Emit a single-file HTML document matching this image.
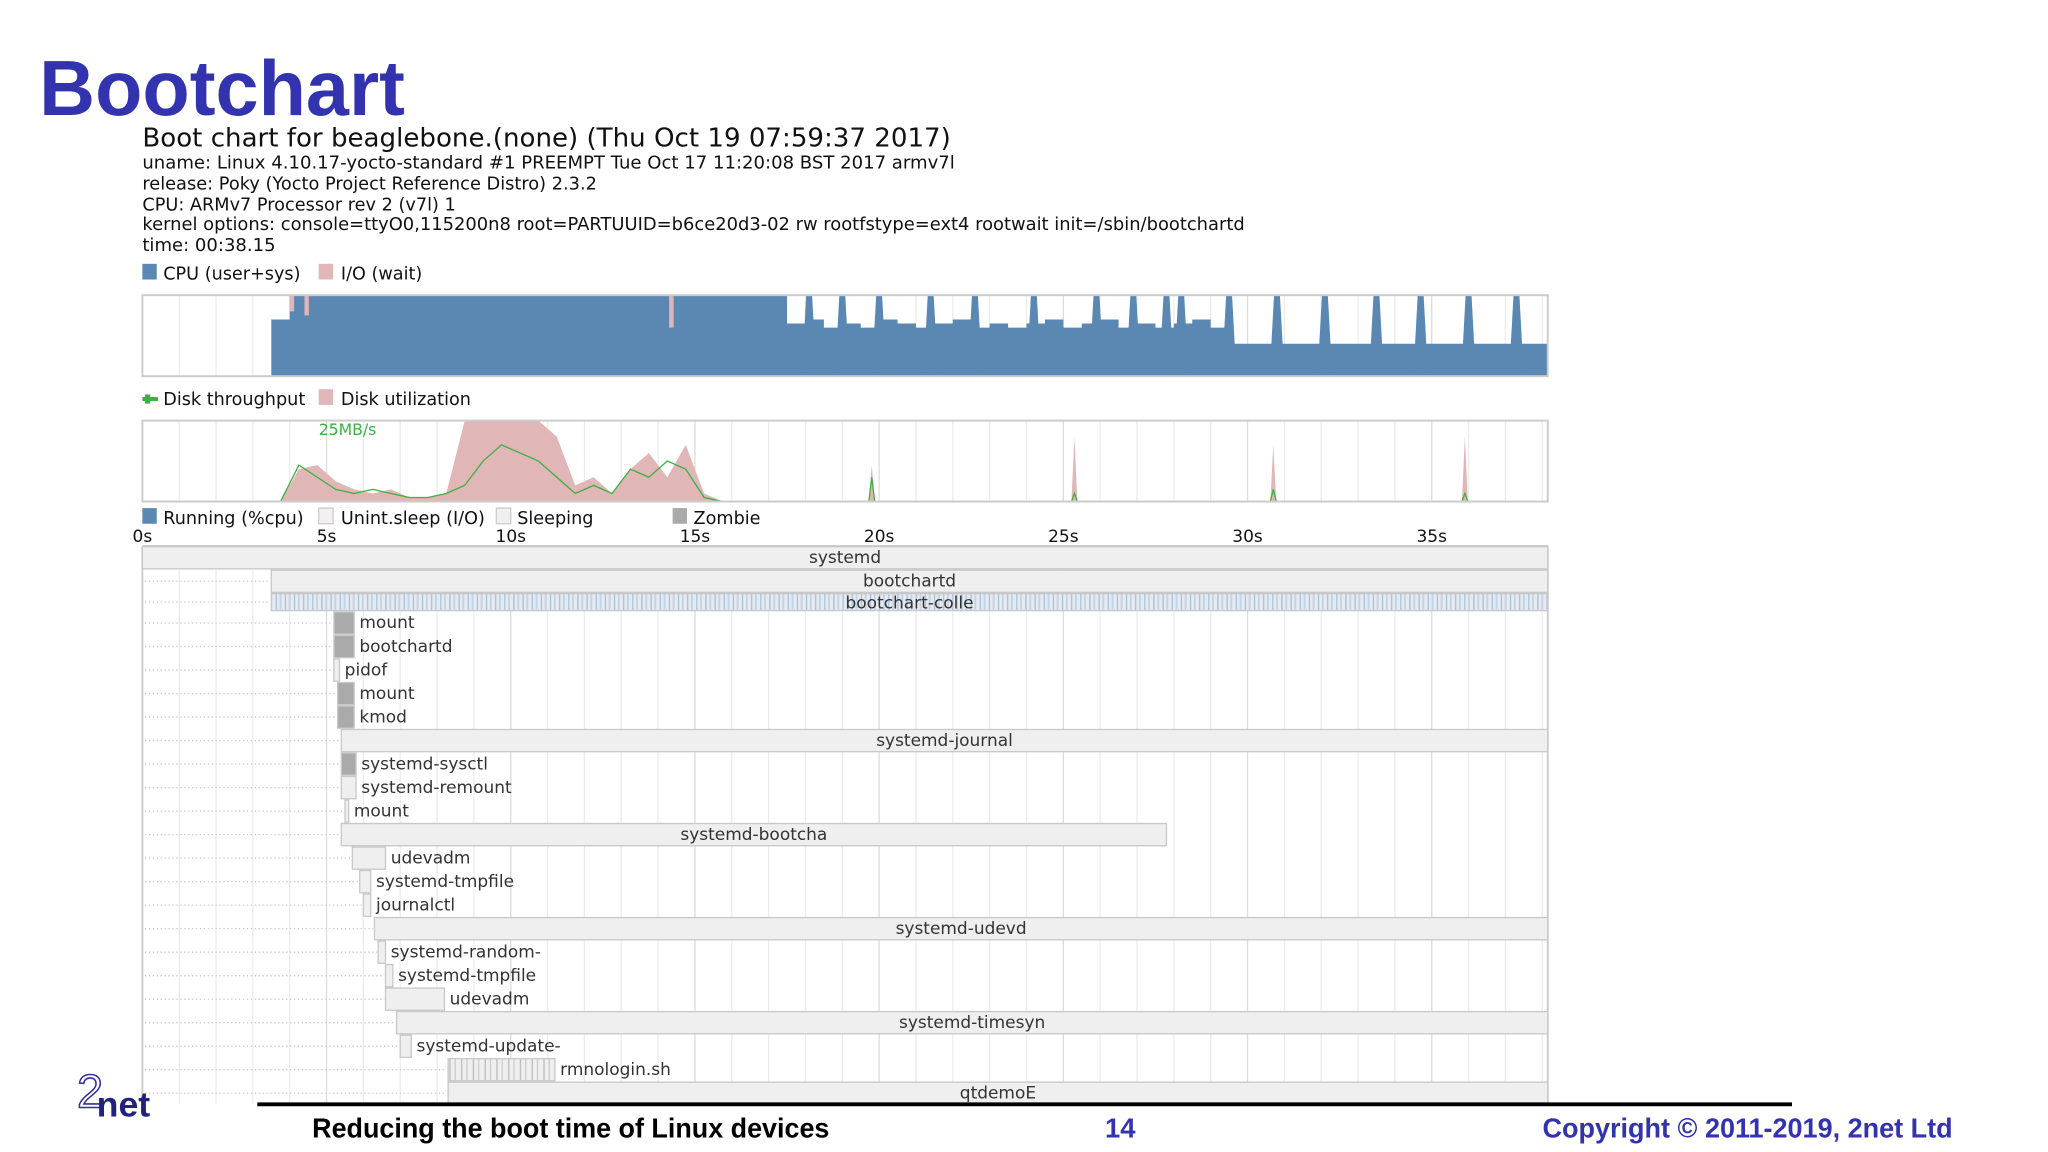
<!DOCTYPE html>
<html><head><meta charset="utf-8">
<style>
html,body{margin:0;padding:0;background:#fff;}
svg{display:block;}
.dv{font-family:"DejaVu Sans","Liberation Sans",sans-serif;}
.ls{font-family:"Liberation Sans",sans-serif;}
</style></head>
<body>
<svg id="root" width="2048" height="1152" viewBox="0 0 1568 882" xmlns="http://www.w3.org/2000/svg">
<defs>
<pattern id="stripes" width="7" height="10" patternUnits="userSpaceOnUse">
<rect width="7" height="10" fill="#e6ebf1"/>
<rect x="1" width="1" height="10" fill="#a9bfd6"/>
<rect x="4" width="1.5" height="10" fill="#c6d3e2"/>
</pattern>
<pattern id="stripes2" width="9" height="10" patternUnits="userSpaceOnUse">
<rect width="9" height="10" fill="#efefef"/>
<rect x="2" width="1" height="10" fill="#bbb"/>
<rect x="6" width="1" height="10" fill="#ccc"/>
</pattern>
<clipPath id="procClip"><rect x="100" y="417" width="1100" height="428"/></clipPath>
</defs>
<text x="30" y="88" class="ls" font-weight="bold" font-size="60" fill="#3333b0" textLength="280" lengthAdjust="spacingAndGlyphs">Bootchart</text>
<g class="dv" fill="#111">
<text x="109" y="112" font-size="20" textLength="619" lengthAdjust="spacingAndGlyphs">Boot chart for beaglebone.(none) (Thu Oct 19 07:59:37 2017)</text>
<text x="109" y="129" font-size="13.5" textLength="622" lengthAdjust="spacingAndGlyphs">uname: Linux 4.10.17-yocto-standard #1 PREEMPT Tue Oct 17 11:20:08 BST 2017 armv7l</text>
<text x="109" y="145" font-size="13.5" textLength="348" lengthAdjust="spacingAndGlyphs">release: Poky (Yocto Project Reference Distro) 2.3.2</text>
<text x="109" y="161" font-size="13.5" textLength="240" lengthAdjust="spacingAndGlyphs">CPU: ARMv7 Processor rev 2 (v7l) 1</text>
<text x="109" y="176" font-size="13.5" textLength="844" lengthAdjust="spacingAndGlyphs">kernel options: console=ttyO0,115200n8 root=PARTUUID=b6ce20d3-02 rw rootfstype=ext4 rootwait init=/sbin/bootchartd</text>
<text x="109" y="192" font-size="13.5" textLength="102" lengthAdjust="spacingAndGlyphs">time: 00:38.15</text>
</g>
<g class="dv" font-size="13.5" fill="#111">
<rect x="109" y="202" width="11" height="12" fill="#5b87b3"/><text x="125" y="214">CPU (user+sys)</text>
<rect x="244" y="202" width="11" height="12" fill="#e0b6b6"/><text x="261" y="214">I/O (wait)</text>
</g>
<g class="dv" font-size="13.5" fill="#111">
<rect x="109" y="304" width="12" height="3" fill="#3cb043"/><rect x="111" y="302" width="4" height="7" fill="#3cb043"/><text x="125" y="310">Disk throughput</text>
<rect x="244" y="298" width="11" height="12" fill="#e0b6b6"/><text x="261" y="310">Disk utilization</text>
</g>
<g class="dv" font-size="13.5" fill="#111">
<rect x="109" y="389" width="11" height="12" fill="#5b87b3"/><text x="125" y="401">Running (%cpu)</text>
<rect x="244" y="389" width="11" height="12" fill="#f4f0f0" stroke="#ccc"/><text x="261" y="401">Unint.sleep (I/O)</text>
<rect x="380" y="389" width="11" height="12" fill="#f0f0f0" stroke="#ccc"/><text x="396" y="401">Sleeping</text>
<rect x="515" y="389" width="11" height="12" fill="#aaa"/><text x="531" y="401">Zombie</text>
</g>
<g id="grid"></g>
<g id="cpuChart"></g>
<g id="diskChart"></g>
<g id="ticks" class="dv" font-size="13" fill="#111"></g>
<g id="procs" clip-path="url(#procClip)" class="dv" font-size="13" fill="#333"></g>
<line x1="197" y1="845.5" x2="1372" y2="845.5" stroke="#000" stroke-width="3"/>
<g>
<text x="59" y="848" class="ls" font-size="36" fill="#fff" stroke="#333399" stroke-width="1.2">2</text>
<text x="74" y="855" class="ls" font-weight="bold" font-size="27" fill="#22227a" textLength="41" lengthAdjust="spacingAndGlyphs">net</text>
</g>
<text x="239" y="871" class="ls" font-weight="bold" font-size="21" fill="#000" textLength="396" lengthAdjust="spacingAndGlyphs">Reducing the boot time of Linux devices</text>
<text x="846" y="871" class="ls" font-weight="bold" font-size="21" fill="#3333b0">14</text>
<text x="1181" y="871" class="ls" font-weight="bold" font-size="21" fill="#3333b0" textLength="314" lengthAdjust="spacingAndGlyphs">Copyright © 2011-2019, 2net Ltd</text>
</svg>
<script>
// ---- data ----
const tickLabels = ["0s","5s","10s","15s","20s","25s","30s","35s"];
const tickTimes = [0,5,10,15,20,25,30,35];
const totalTime = 38.15;
const sampleStep = 0.5;
const cpuLevel = [0,0,0,0,0,0,0,70,
 100,100,100,100,100,100,100,100,100,100,100,100,100,100,100,100,100,100,100,100,100,100,100,100,100,100,100,
 65,70,60,65,60,70,65,60,65,70,60,65,60,65,70,60,65,70,60,65,60,65,70,60,
 40,40,40,40,40,40,40,40,40,40,40,40,40,40,40,40,40,40];
const cpuSpikes = [18.1,19.0,20.0,21.4,22.6,24.2,25.9,26.9,27.8,28.2,29.5,30.8,32.1,33.5,34.7,36.0,37.3];
const ioWaitTimes = [4.0,4.4,14.3];
const ioWaitLevel = [20,25,40];
const diskUtil = [0,0,0,0,0,0,0,0,
 40,45,25,15,10,15,5,5,10,100,100,100,100,100,80,20,30,10,40,60,30,70,10,0];
const diskTput = [0,0,0,0,0,0,0,0,
 45,30,15,10,15,10,5,5,10,20,50,70,60,50,30,10,20,10,40,30,50,40,5,0];
const diskSpikeTimes = [19.8,25.3,30.7,35.9];
const diskSpikeUtil = [45,80,70,80];
const diskSpikeTput = [30,10,15,10];
const procNames = ["systemd","bootchartd","bootchart-colle","mount","bootchartd","pidof","mount","kmod","systemd-journal","systemd-sysctl","systemd-remount","mount","systemd-bootcha","udevadm","systemd-tmpfile","journalctl","systemd-udevd","systemd-random-","systemd-tmpfile","udevadm","systemd-timesyn","systemd-update-","rmnologin.sh","qtdemoE"];
const procStart = [0,3.5,3.5,5.2,5.2,5.2,5.3,5.3,5.4,5.4,5.4,5.5,5.4,5.7,5.9,6.0,6.3,6.4,6.6,6.6,6.9,7.0,8.3,8.3];
const procEnd = [38.15,38.15,38.15,5.75,5.75,5.35,5.75,5.75,38.15,5.8,5.8,5.6,27.8,6.6,6.2,6.2,38.15,6.6,6.8,8.2,38.15,7.3,11.2,38.15];
const procBusy = [0,0,0,1,1,0,1,1,0,1,0,0,0,0,0,0,0,0,0,0,0,0,2,0];

// ---- axes ----
const X0 = 109, X1 = 1185;
const xs = t => X0 + t * (X1 - X0) / totalTime;
const NS = "http://www.w3.org/2000/svg";
function mk(tag, attrs, parent){const e=document.createElementNS(NS,tag);for(const k in attrs)e.setAttribute(k,attrs[k]);parent.appendChild(e);return e;}
const cpuTop=226,cpuBot=288,dTop=322,dBot=384,pTop=418,pBot=845,rowH=18;
const cy = v => cpuBot - v/100*(cpuBot-cpuTop);
const dy = v => dBot - v/100*(dBot-dTop);
const rowY = i => i<3 ? pTop+i*rowH : 468+(i-3)*rowH;
const rowHt = i => i===2 ? 14 : rowH;

// grid
const grid=document.getElementById('grid');
for(let s=1;s<totalTime;s++){
  [[cpuTop,cpuBot],[dTop,dBot],[pTop,pBot]].forEach(([a,b])=>{
    const l=mk('line',{x1:xs(s),x2:xs(s),y1:a,y2:b,stroke:s%5===0?'#dcdcdc':'#ececec','stroke-width':1},grid);
    
    
  });
}

// cpu chart
const cpuG=document.getElementById('cpuChart');
let d='M'+xs(0)+','+cpuBot;
cpuLevel.forEach((v,i)=>{const t=i*sampleStep;d+=' L'+xs(t)+','+cy(v)+' L'+xs(Math.min(t+sampleStep,totalTime))+','+cy(v);});
d+=' L'+xs(totalTime)+','+cpuBot+' Z';
const cpuArea=mk('path',{d:d,fill:'#5b87b3'},cpuG);


cpuSpikes.forEach(t=>{
  const r=mk('path',{d:`M${xs(t-0.2)},${cpuBot} L${xs(t-0.08)},${cy(100)} L${xs(t+0.08)},${cy(100)} L${xs(t+0.2)},${cpuBot} Z`,fill:'#5b87b3'},cpuG);
  
  
});
ioWaitTimes.forEach((t,i)=>{
  const r=mk('rect',{x:xs(t),y:cpuTop,width:xs(0.12)-xs(0),height:(cpuBot-cpuTop)*ioWaitLevel[i]/100,fill:'#e0b6b6'},cpuG);
  
  
});
const cpuFrame=mk('rect',{x:X0,y:cpuTop,width:X1-X0,height:cpuBot-cpuTop,fill:'none',stroke:'#ccc','stroke-width':1.5},cpuG);



// disk chart
const dG=document.getElementById('diskChart');
let du='M'+xs(0)+','+dBot, dt='M'+xs(0)+','+dy(diskTput[0]);
diskUtil.forEach((v,i)=>{du+=' L'+xs(i*sampleStep+0.25)+','+dy(v);});
du+=' L'+xs(diskUtil.length*sampleStep)+','+dBot+' Z';
diskTput.forEach((v,i)=>{dt+=' L'+xs(i*sampleStep+0.25)+','+dy(v);});
dt+=' L'+xs(totalTime)+','+dBot;
const uArea=mk('path',{d:du,fill:'#e0b6b6'},dG);


diskSpikeTimes.forEach((t,i)=>{
  const p=mk('path',{d:`M${xs(t-0.08)},${dBot} L${xs(t)},${dy(diskSpikeUtil[i])} L${xs(t+0.08)},${dBot} Z`,fill:'#e0b6b6'},dG);
  
  
  const q=mk('path',{d:`M${xs(t-0.08)},${dBot} L${xs(t)},${dy(diskSpikeTput[i])} L${xs(t+0.08)},${dBot}`,fill:'none',stroke:'#3cb043','stroke-width':1},dG);
  
  
});
const tLine=mk('path',{d:dt,fill:'none',stroke:'#3cb043','stroke-width':1},dG);


const tlbl=mk('text',{x:244,y:333,'font-size':12,fill:'#3cb043',class:'dv'},dG);
tlbl.textContent='25MB/s';


const dFrame=mk('rect',{x:X0,y:dTop,width:X1-X0,height:dBot-dTop,fill:'none',stroke:'#ccc','stroke-width':1.5},dG);



// ticks
const tg=document.getElementById('ticks');
tickTimes.forEach((t,i)=>{
  const e=mk('text',{x:xs(t),y:415,'text-anchor':'middle'},tg);
  e.textContent=tickLabels[i];
  
  
});

// processes
const pg=document.getElementById('procs');
const pf=mk('line',{x1:X0,x2:X0,y1:pTop,y2:pBot,stroke:'#ccc','stroke-width':1.5},pg);


mk('line',{x1:X1,x2:X1,y1:pTop,y2:pBot,stroke:'#ccc','stroke-width':1.5},pg);
mk('line',{x1:X0,x2:X1,y1:pTop,y2:pTop,stroke:'#ccc','stroke-width':1.5},pg);
procNames.forEach((n,i)=>{
  const y=rowY(i), h=rowHt(i), x0=xs(procStart[i]), x1=xs(procEnd[i]);
  if(x0>X0+4){
    const dl=mk('line',{x1:X0+2,x2:x0-1,y1:y+h/2,y2:y+h/2,stroke:'#c8c8c8','stroke-dasharray':'1 2'},pg);
    
    
  }
  const fill = i===2 ? 'url(#stripes)' : (procBusy[i]===1 ? '#aaaaaa' : (procBusy[i]===2 ? 'url(#stripes2)' : '#efefef'));
  const r=mk('rect',{x:x0,y:y+0.5,width:Math.max(x1-x0,2),height:h-1,fill:fill,stroke:'#c8c8c8','stroke-width':1},pg);
  
  
  const w=x1-x0, lw=n.length*7.2;
  const t=mk('text',{y:y+(i===2?12:13)},pg);
  if(w>lw+20){t.setAttribute('x',(x0+x1)/2);t.setAttribute('text-anchor','middle');}
  else{t.setAttribute('x',x1+4);}
  t.textContent=n;
  
  
});
</script>
</body></html>
